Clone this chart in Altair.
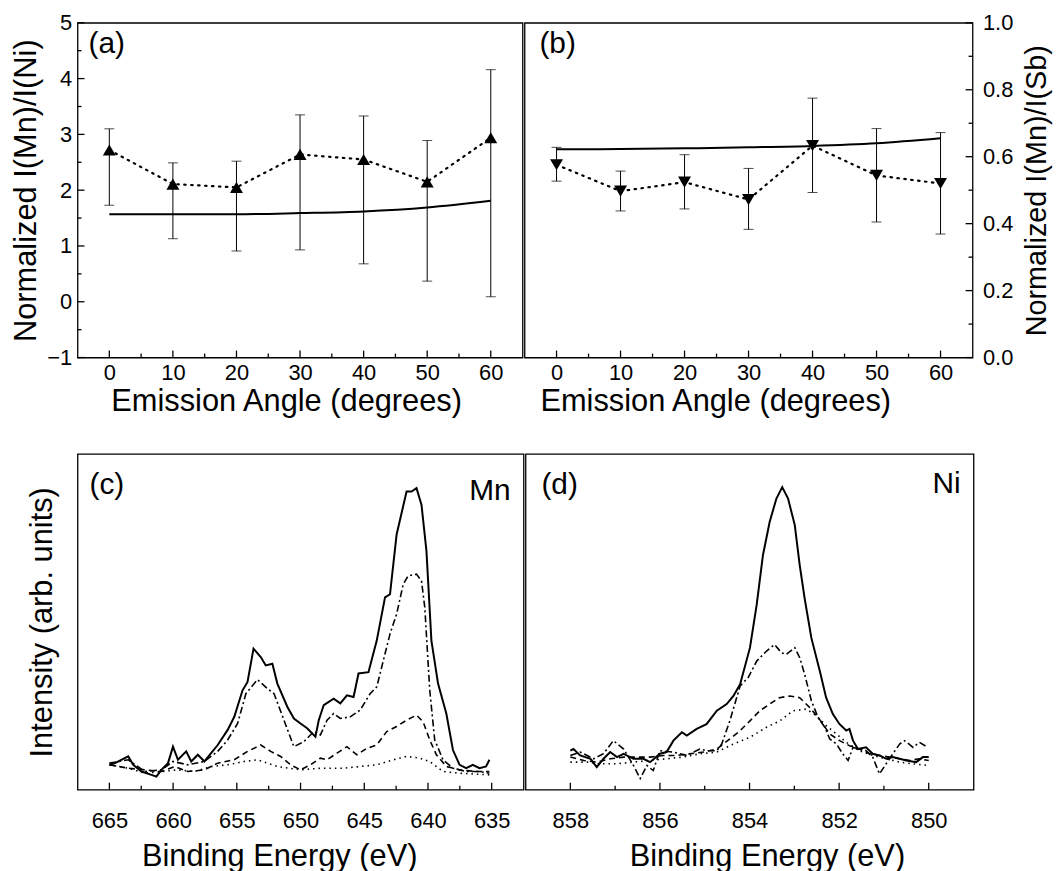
import altair as alt
import pandas as pd

FONT = "Liberation Sans"

# ---------------- panel (a) / (b): emission angle data ----------------
angles = [0, 10, 20, 30, 40, 50, 60]
a_ratio = [2.72, 2.11, 2.05, 2.64, 2.55, 2.15, 2.94]
a_err_lo = [1.73, 1.13, 0.91, 0.93, 0.68, 0.37, 0.09]
a_err_hi = [3.10, 2.49, 2.52, 3.35, 3.33, 2.89, 4.16]
a_model = [1.57, 1.57, 1.57, 1.59, 1.62, 1.69, 1.81]

b_ratio = [0.576, 0.497, 0.524, 0.472, 0.633, 0.544, 0.520]
b_err_lo = [0.527, 0.438, 0.444, 0.383, 0.493, 0.405, 0.369]
b_err_hi = [0.628, 0.557, 0.606, 0.565, 0.775, 0.684, 0.672]
b_model = [0.622, 0.623, 0.625, 0.628, 0.632, 0.640, 0.655]

# ---------------- panel (c): Mn spectra ----------------
c_solid_e = [665.0, 664.56, 663.52, 663.13, 662.48, 661.70, 661.31, 660.92, 660.40, 660.01,
             659.62, 658.97, 658.58, 658.06, 657.54, 657.02, 656.50, 655.72, 655.20, 654.55,
             654.16, 653.69, 653.12, 652.73, 652.21, 651.82, 651.04, 650.52, 650.00, 649.48,
             648.83, 648.57, 648.18, 647.40, 646.88, 646.36, 645.84, 645.45, 644.67, 644.02,
             643.37, 642.98, 642.46, 641.68, 641.29, 640.90, 640.51, 640.12, 639.73, 639.21,
             638.56, 638.04, 637.52, 637.00, 636.48, 635.96, 635.44, 635.18]
c_solid_i = [7.4, 7.9, 9.9, 7.4, 5.4, 4.4, 3.9, 5.9, 7.9, 12.8,
             8.9, 11.4, 8.4, 10.4, 8.4, 10.9, 13.3, 17.8, 21.7, 29.6,
             32.1, 42.0, 39.5, 37.0, 37.5, 31.6, 24.7, 21.2, 19.7, 18.3,
             15.8, 20.7, 25.2, 27.1, 25.7, 28.1, 27.6, 34.6, 35.0, 44.4,
             57.3, 58.2, 76.0, 88.8, 88.8, 89.8, 84.9, 71.1, 44.4, 31.6,
             22.7, 11.8, 7.4, 6.4, 7.4, 6.4, 6.9, 8.9]
c_dashdot_e = [665.0, 663.52, 662.22, 660.92, 660.01, 658.84, 657.54, 656.50, 655.72, 654.94,
               654.29, 653.38, 652.60, 652.08, 651.30, 650.52, 649.74, 648.96, 648.44, 647.92,
               647.40, 646.88, 646.10, 645.32, 644.54, 644.02, 643.50, 642.98, 642.46, 641.94,
               641.55, 640.90, 640.51, 640.25, 639.86, 639.47, 638.82, 638.04, 637.00, 635.96,
               635.18]
c_dashdot_i = [7.9, 8.9, 5.4, 5.9, 8.4, 7.4, 8.4, 11.4, 14.8, 19.7,
               28.6, 32.8, 30.1, 28.6, 20.7, 12.8, 14.3, 17.3, 16.3, 20.7,
               22.7, 21.2, 21.7, 23.7, 28.6, 30.6, 38.5, 46.4, 52.3, 61.2,
               63.7, 64.2, 62.2, 54.3, 29.6, 14.8, 8.9, 6.4, 5.4, 5.4,
               4.9]
c_dashed_e = [665.0, 663.52, 662.22, 660.92, 659.88, 658.84, 657.54, 656.50, 655.20, 654.16,
              653.12, 652.34, 651.56, 650.78, 650.00, 649.22, 648.44, 647.92, 647.14, 646.36,
              645.58, 644.80, 644.02, 643.24, 642.46, 641.68, 640.90, 640.38, 639.86, 639.34,
              638.56, 637.52, 636.22, 635.18]
c_dashed_i = [7.4, 6.4, 5.9, 5.4, 6.9, 5.4, 5.9, 7.9, 8.9, 11.4,
              13.3, 11.4, 9.9, 7.4, 5.9, 7.4, 9.4, 8.9, 10.9, 12.8,
              10.4, 12.3, 13.3, 17.3, 18.8, 20.7, 22.2, 20.2, 14.8, 10.4,
              6.9, 5.9, 5.4, 5.4]
c_dotted_e = [665.0, 663.52, 662.22, 660.92, 659.62, 658.32, 657.02, 655.72, 654.42, 653.38,
              651.82, 650.00, 648.44, 646.62, 645.32, 644.02, 642.72, 641.68, 640.64, 639.86,
              638.82, 637.52, 635.18]
c_dotted_i = [7.4, 6.4, 4.9, 5.4, 5.9, 5.4, 6.9, 7.4, 8.4, 8.9,
              6.9, 5.9, 6.4, 6.4, 6.9, 7.4, 8.9, 9.9, 9.4, 8.4,
              5.4, 4.9, 4.4]

# ---------------- panel (d): Ni spectra ----------------
d_solid_e = [858.00, 857.93, 857.78, 857.55, 857.41, 857.26, 857.11, 856.96, 856.81, 856.59,
             856.37, 856.22, 856.00, 855.85, 855.70, 855.51, 855.40, 855.18, 854.96, 854.73,
             854.51, 854.36, 854.21, 853.99, 853.84, 853.70, 853.55, 853.40, 853.27, 853.14,
             852.99, 852.88, 852.77, 852.62, 852.43, 852.29, 852.14, 851.99, 851.84, 851.77,
             851.69, 851.58, 851.40, 851.25, 851.10, 850.95, 850.80, 850.65, 850.50, 850.28,
             850.13, 850.00]
d_solid_i = [11.6, 12.1, 10.2, 9.2, 6.7, 9.2, 11.2, 9.7, 10.7, 9.2,
             9.2, 8.2, 10.7, 11.2, 14.6, 17.1, 16.1, 18.1, 19.5, 23.5,
             25.5, 27.9, 31.4, 42.3, 55.1, 69.9, 79.8, 86.7, 90.1, 86.7,
             78.8, 66.9, 57.0, 45.2, 35.3, 27.4, 22.5, 19.5, 17.6, 18.1,
             14.6, 12.1, 12.6, 10.7, 10.2, 9.2, 9.7, 9.2, 8.7, 8.2,
             9.7, 9.7]
d_dashdot_e = [858.00, 857.78, 857.48, 857.26, 857.04, 856.81, 856.59, 856.44, 856.29, 856.15,
               856.00, 855.70, 855.40, 855.11, 854.96, 854.73, 854.62, 854.44, 854.21, 854.03,
               853.84, 853.62, 853.44, 853.29, 853.18, 852.99, 852.88, 852.77, 852.62, 852.47,
               852.32, 852.21, 852.06, 851.92, 851.80, 851.69, 851.54, 851.40, 851.25, 851.10,
               850.95, 850.80, 850.65, 850.54, 850.35, 850.21, 850.02]
d_dashdot_i = [10.2, 11.2, 9.2, 10.7, 14.6, 12.1, 7.2, 3.3, 7.2, 5.7,
               11.6, 11.2, 10.2, 12.1, 11.6, 11.6, 13.6, 20.5, 30.9, 33.4,
               38.3, 41.3, 43.2, 40.8, 40.3, 42.3, 39.3, 34.4, 26.5, 21.5,
               18.6, 15.1, 13.6, 10.7, 8.7, 12.6, 12.1, 11.6, 9.7, 4.7,
               7.7, 10.7, 13.6, 14.6, 12.6, 14.1, 12.6]
d_dashed_e = [858.00, 857.70, 857.41, 857.11, 856.81, 856.52, 856.22, 855.92, 855.63, 855.33,
              855.03, 854.73, 854.44, 854.21, 853.99, 853.77, 853.55, 853.33, 853.10, 852.88,
              852.66, 852.44, 852.21, 851.99, 851.77, 851.55, 851.32, 851.10, 850.88, 850.65,
              850.43, 850.21, 850.00]
d_dashed_i = [9.7, 8.7, 8.2, 9.2, 9.7, 9.7, 9.7, 10.2, 10.2, 10.7,
              11.2, 12.1, 15.1, 17.6, 20.5, 23.5, 25.5, 27.4, 27.9, 27.4,
              24.5, 21.0, 16.6, 14.6, 13.1, 12.1, 10.7, 10.2, 9.7, 9.2,
              8.7, 9.2, 8.7]
d_dotted_e = [858.00, 857.63, 857.33, 856.96, 856.59, 856.22, 855.85, 855.48, 855.11, 854.73,
              854.36, 853.99, 853.62, 853.32, 853.03, 852.73, 852.51, 852.29, 852.06, 851.84,
              851.55, 851.25, 850.95, 850.65, 850.36, 850.00]
d_dotted_i = [8.2, 8.2, 7.7, 7.7, 8.2, 8.7, 9.2, 9.7, 10.7, 11.2,
              13.6, 15.6, 18.6, 20.5, 23.5, 24.0, 22.0, 19.1, 16.6, 14.1,
              11.6, 10.2, 9.2, 8.2, 7.7, 7.2]

# tick positions
angle_major = [0, 10, 20, 30, 40, 50, 60]
angle_minor = [5, 15, 25, 35, 45, 55]
a_y_major = [-1, 0, 1, 2, 3, 4, 5]
a_y_minor = [-0.5, 0.5, 1.5, 2.5, 3.5, 4.5]
b_y_major = [0.0, 0.2, 0.4, 0.6, 0.8, 1.0]
b_y_minor = [0.1, 0.3, 0.5, 0.7, 0.9]
c_x_major = [665, 660, 655, 650, 645, 640, 635]
c_x_minor = [662.5, 657.5, 652.5, 647.5, 642.5, 637.5]
d_x_major = [858, 856, 854, 852, 850]
d_x_minor = [857, 855, 853, 851]

W_A, W_B, W_C, W_D = 448, 451, 449, 451
H_TOP, H_BOT = 337, 338
MAJ, MIN = 7, 4
LBL = 30
TITLE = 31


def xticks(vals, scale, h, length):
    return alt.Chart(pd.DataFrame({"t": vals})).mark_rule(color="black", strokeWidth=1.3).encode(
        x=alt.X("t:Q", scale=scale), y=alt.value(h), y2=alt.value(h - length))


def yticks(vals, scale, x0, x1):
    return alt.Chart(pd.DataFrame({"t": vals})).mark_rule(color="black", strokeWidth=1.3).encode(
        y=alt.Y("t:Q", scale=scale), x=alt.value(x0), x2=alt.value(x1))


def label(text, x, y, align="left"):
    return alt.Chart(pd.DataFrame({"s": [text]})).mark_text(
        font=FONT, fontSize=LBL, align=align, baseline="top", color="black"
    ).encode(text="s:N", x=alt.value(x), y=alt.value(y))


def angle_panel(ratio, lo, hi, model, shape, yscale, yaxis, w, name, tick_right, title_x, lab_x):
    xs = alt.Scale(domain=[-5, 65], nice=False, zero=False)
    df = pd.DataFrame({"angle": angles, "ratio": ratio, "lo": lo, "hi": hi, "model": model})
    xaxis = alt.Axis(values=angle_major, title="Emission Angle (degrees)", labelPadding=5,
                     titlePadding=3, titleX=title_x, titleAlign="center")
    base = alt.Chart(df)
    model_line = base.mark_line(color="black", strokeWidth=2, interpolate="monotone").encode(
        x=alt.X("angle:Q", scale=xs, axis=xaxis),
        y=alt.Y("model:Q", scale=yscale, axis=yaxis))
    dotted = base.mark_line(color="black", strokeWidth=2.2, strokeDash=[1.5, 5.5],
                            strokeCap="round").encode(
        x=alt.X("angle:Q", scale=xs), y=alt.Y("ratio:Q", scale=yscale))
    err = base.mark_rule(color="black", strokeWidth=1).encode(
        x=alt.X("angle:Q", scale=xs), y=alt.Y("lo:Q", scale=yscale), y2="hi:Q")
    cap_lo = base.mark_tick(color="black", orient="horizontal", size=10, thickness=1).encode(
        x=alt.X("angle:Q", scale=xs), y=alt.Y("lo:Q", scale=yscale))
    cap_hi = base.mark_tick(color="black", orient="horizontal", size=10, thickness=1).encode(
        x=alt.X("angle:Q", scale=xs), y=alt.Y("hi:Q", scale=yscale))
    pts = base.mark_point(shape=shape, filled=True, color="black", size=170, opacity=1).encode(
        x=alt.X("angle:Q", scale=xs), y=alt.Y("ratio:Q", scale=yscale))
    layers = [model_line, dotted, err, cap_lo, cap_hi, pts,
              xticks(angle_major, xs, H_TOP, MAJ), xticks(angle_minor, xs, H_TOP, MIN)]
    if tick_right:
        layers += [yticks(b_y_major, yscale, w, w - MAJ), yticks(b_y_minor, yscale, w, w - MIN)]
    else:
        layers += [yticks(a_y_major, yscale, 0, MAJ), yticks(a_y_minor, yscale, 0, MIN)]
    layers.append(label(name, lab_x, 6))
    return alt.layer(*layers).properties(width=w, height=H_TOP)


a_chart = angle_panel(
    a_ratio, a_err_lo, a_err_hi, a_model, "triangle-up",
    alt.Scale(domain=[-1, 5], nice=False, zero=False),
    alt.Axis(values=a_y_major, format="d", title="Normalized I(Mn)/I(Ni)", labelPadding=6,
             titlePadding=4, minExtent=31, maxExtent=31),
    W_A, "(a)", False, 210, 11)

b_chart = angle_panel(
    b_ratio, b_err_lo, b_err_hi, b_model, "triangle-down",
    alt.Scale(domain=[0, 1], nice=False, zero=False),
    alt.Axis(values=b_y_major, format=".1f", orient="right", title="Normalized I(Mn)/I(Sb)",
             labelPadding=10, titlePadding=10, titleAngle=270, titleBaseline="top",
             titleFontSize=29),
    W_B, "(b)", True, 192, 15)


def spectrum_panel(curves, domain, major, minor, w, name, elem, yaxis, title_x, elem_y):
    xs = alt.Scale(domain=domain, nice=False, zero=False, reverse=True)
    ys = alt.Scale(domain=[0, 100], nice=False, zero=False)
    xaxis = alt.Axis(values=major, format="d", title="Binding Energy (eV)", labelPadding=21,
                     titlePadding=10, titleX=title_x, titleAlign="center")
    layers = []
    first = True
    for (e, i, dash, sw) in curves:
        df = pd.DataFrame({"e": e, "i": i})
        mk = {"color": "black", "strokeWidth": sw}
        if dash:
            mk["strokeDash"] = dash
        if first:
            enc_x = alt.X("e:Q", scale=xs, axis=xaxis)
            enc_y = alt.Y("i:Q", scale=ys, axis=yaxis)
        else:
            enc_x = alt.X("e:Q", scale=xs)
            enc_y = alt.Y("i:Q", scale=ys)
        layers.append(alt.Chart(df).mark_line(**mk).encode(x=enc_x, y=enc_y))
        first = False
    layers += [xticks(major, xs, H_BOT, MAJ), xticks(minor, xs, H_BOT, MIN)]
    layers.append(label(name, 12 if name == "(c)" else 16, 16))
    layers.append(label(elem, w - 13, elem_y, align="right"))
    return alt.layer(*layers).properties(width=w, height=H_BOT)


c_chart = spectrum_panel(
    [(c_solid_e, c_solid_i, None, 2),
     (c_dashdot_e, c_dashdot_i, [7, 3, 2, 3], 1.6),
     (c_dashed_e, c_dashed_i, [6, 4], 1.6),
     (c_dotted_e, c_dotted_i, [1.5, 4], 1.6)],
    [632.5, 667.5], c_x_major, c_x_minor, W_C, "(c)", "Mn",
    alt.Axis(title="Intensity (arb. units)", labels=False, titlePadding=19,
             minExtent=0, maxExtent=0),
    203, 22)

d_chart = spectrum_panel(
    [(d_solid_e, d_solid_i, None, 2),
     (d_dashdot_e, d_dashdot_i, [7, 3, 2, 3], 1.6),
     (d_dashed_e, d_dashed_i, [6, 4], 1.6),
     (d_dotted_e, d_dotted_i, [1.5, 4], 1.6)],
    [849, 859], d_x_major, d_x_minor, W_D, "(d)", "Ni",
    alt.Axis(title=None, labels=False, minExtent=0, maxExtent=0), 243, 15)

top = alt.hconcat(a_chart, b_chart, spacing=0)
bottom = alt.hconcat(c_chart, d_chart, spacing=0)

chart = alt.vconcat(top, bottom, spacing=36).properties(
    padding={"left": 2, "top": 0, "right": 0, "bottom": 0},
    background="white"
).configure_axis(
    labelFont=FONT, titleFont=FONT, labelFontSize=22, titleFontSize=TITLE,
    labelColor="black", titleColor="black", titleFontWeight="normal",
    domain=False, ticks=False, tickSize=0, grid=False
).configure_view(
    stroke="black", strokeWidth=1.3
)

chart.save("out.html", embed_options={"renderer": "svg", "actions": False})
